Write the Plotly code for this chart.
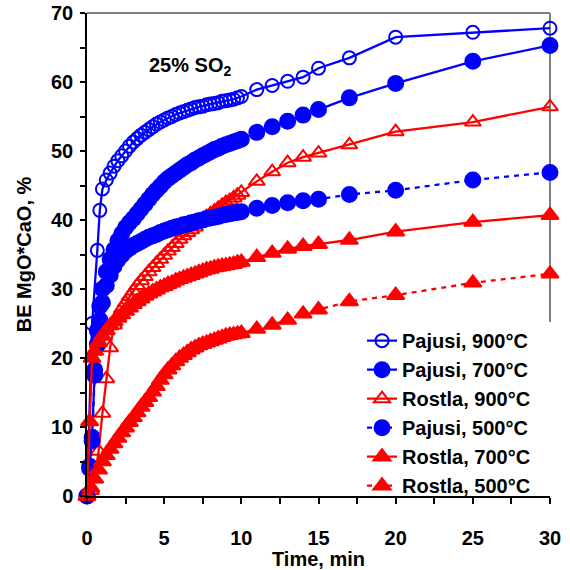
import plotly.graph_objects as go

# Shared sampling times (min) for the dense part of every run and the late readings
T_GRID = [1.0, 1.25, 1.5, 1.75, 2.0, 2.25, 2.5, 2.75, 3.0, 3.25, 3.5, 3.75,
          4.0, 4.25, 4.5, 4.75, 5.0, 5.25, 5.5, 5.75, 6.0, 6.25, 6.5, 6.75,
          7.0, 7.25, 7.5, 7.75, 8.0, 8.25, 8.5, 8.75, 9.0, 9.25, 9.5, 9.75, 10.0]
T_LATE = [11, 12, 13, 14, 15, 17, 20, 25, 30]

# Pajusi, 900 °C
P900_T0 = [0, 0.33, 0.67, 0.83]
P900_Y = [0, 25.0, 35.6, 41.4,
          44.5, 45.8, 46.8, 47.8, 48.6, 49.3, 50.0, 50.7, 51.3, 51.8, 52.3, 52.7,
          53.1, 53.5, 53.9, 54.2, 54.5, 54.8, 55.0, 55.3, 55.5, 55.7, 55.9, 56.1,
          56.3, 56.4, 56.5, 56.7, 56.8, 56.9, 57.0, 57.2, 57.3, 57.4, 57.5, 57.7, 57.9,
          58.9, 59.5, 60.1, 60.7, 62.0, 63.5, 66.5, 67.2, 67.8]

# Pajusi, 700 °C
P700_T0 = [0, 0.17, 0.33, 0.5, 0.67, 0.83]
P700_Y = [0, 4.3, 8.5, 18.3, 24.0, 27.5,
          30.0, 32.5, 34.3, 35.7, 37.0, 38.0, 38.9, 39.6, 40.2, 40.9, 41.6, 42.3,
          43.0, 43.7, 44.3, 44.9, 45.5, 46.0, 46.4, 46.8, 47.2, 47.6, 48.0, 48.3,
          48.7, 49.0, 49.3, 49.6, 49.9, 50.2, 50.4, 50.7, 50.9, 51.1, 51.3, 51.5, 51.7,
          52.7, 53.5, 54.3, 55.2, 56.0, 57.7, 59.8, 63.0, 65.3]

# Rostla, 900 °C
R900_T0 = [0, 0.25, 0.5, 0.75]
R900_Y = [0, 0.8, 2.5, 6.5,
          12.0, 17.0, 21.5, 24.8, 26.0, 27.1, 28.0, 28.9, 29.7, 30.5, 31.2, 31.8,
          32.5, 33.1, 33.7, 34.3, 34.9, 35.5, 36.0, 36.6, 37.2, 37.7, 38.2, 38.6,
          39.0, 39.5, 40.0, 40.5, 40.9, 41.3, 41.7, 42.1, 42.5, 42.8, 43.2, 43.6, 44.0,
          45.6, 47.0, 48.3, 49.1, 49.7, 50.9, 52.8, 54.2, 56.4]

# Pajusi, 500 °C
P500_T0 = [0, 0.17, 0.33, 0.5, 0.67, 0.83]
P500_Y = [0, 4.0, 8.0, 17.5, 22.0, 25.5,
          28.0, 30.5, 32.0, 33.3, 34.2, 34.9, 35.5, 35.9, 36.3, 36.6, 36.9, 37.2,
          37.5, 37.7, 37.9, 38.2, 38.4, 38.6, 38.8, 39.0, 39.1, 39.3, 39.4, 39.6,
          39.7, 39.9, 40.0, 40.2, 40.3, 40.4, 40.5, 40.7, 40.8, 40.9, 41.0, 41.1, 41.2,
          41.7, 42.1, 42.5, 42.8, 43.0, 43.7, 44.3, 45.8, 46.9]

# Rostla, 700 °C
R700_T0 = [0, 0.17, 0.33, 0.5, 0.75]
R700_Y = [0, 10.8, 20.0, 21.0, 22.3,
          23.2, 24.0, 24.7, 25.3, 25.8, 26.3, 26.8, 27.3, 27.8, 28.2, 28.6, 29.0,
          29.3, 29.6, 29.9, 30.2, 30.4, 30.7, 30.9, 31.2, 31.4, 31.6, 31.8, 32.0,
          32.2, 32.4, 32.6, 32.8, 32.9, 33.1, 33.2, 33.3, 33.4, 33.5, 33.6, 33.8, 33.9,
          34.6, 35.2, 35.8, 36.2, 36.5, 37.1, 38.3, 39.7, 40.7]

# Rostla, 500 °C
R500_T0 = [0, 0.25, 0.5, 0.75]
R500_Y = [0, 1.2, 2.5, 3.8,
          5.0, 5.9, 6.8, 7.6, 8.4, 9.2, 9.9, 10.7, 11.4, 12.1, 12.9, 13.6,
          14.3, 15.1, 15.9, 16.8, 17.6, 18.3, 18.9, 19.5, 20.0, 20.4, 20.8, 21.2,
          21.5, 21.8, 22.0, 22.2, 22.4, 22.6, 22.8, 23.0, 23.2, 23.3, 23.4, 23.5, 23.6,
          24.2, 24.8, 25.5, 26.4, 27.0, 28.2, 29.1, 30.9, 32.2]

X_TICKS = [0, 5, 10, 15, 20, 25, 30]
Y_TICKS = [0, 10, 20, 30, 40, 50, 60, 70]

BLUE = "#0000FF"
RED = "#FF0000"
FONT = "Liberation Sans, Arial, sans-serif"

series = [
    ("Pajusi, 900°C", P900_T0, P900_Y, BLUE, "circle-open", "solid", 13),
    ("Pajusi, 700°C", P700_T0, P700_Y, BLUE, "circle", "solid", 15),
    ("Rostla, 900°C", R900_T0, R900_Y, RED, "triangle-up-open", "solid", 14),
    ("Pajusi, 500°C", P500_T0, P500_Y, BLUE, "circle", "5px,5px", 15),
    ("Rostla, 700°C", R700_T0, R700_Y, RED, "triangle-up", "solid", 15),
    ("Rostla, 500°C", R500_T0, R500_Y, RED, "triangle-up", "5px,5px", 15),
]

fig = go.Figure()
for i, (name, t0, vals, color, symbol, dash, msize) in enumerate(series):
    times = t0 + T_GRID + T_LATE
    fig.add_trace(go.Scatter(
        x=times, y=vals, name=name, mode="lines+markers",
        legendgroup=f"g{i}",
        line=dict(color=color, width=2.3, dash=dash),
        marker=dict(symbol=symbol, size=msize, color=color,
                    line=dict(color=color, width=2)),
        cliponaxis=False,
    ))

axis_font = dict(family=FONT, size=20, color="black", weight="bold")
title_font = dict(family=FONT, size=20, color="black", weight="bold")

# legend occupies the lower right corner; the grey frame stops at its top
LEGEND_TOP = 0.36

fig.update_layout(
    width=570, height=570,
    margin=dict(l=87, r=20, t=13, b=74, autoexpand=False),
    paper_bgcolor="white", plot_bgcolor="white",
    showlegend=True,
    legend=dict(
        x=0.594, y=-0.019, xanchor="left", yanchor="bottom",
        bgcolor="rgba(255,255,255,0)", borderwidth=0,
        font=dict(family=FONT, size=20, color="black", weight="bold"),
        tracegroupgap=0, itemwidth=30,
    ),
    xaxis=dict(
        range=[0, 30], tickmode="array", tickvals=X_TICKS, automargin=False,
        ticks="outside", ticklen=6, tickwidth=1.5, tickcolor="black",
        minor=dict(dtick=2.5, ticks="outside", ticklen=6, tickwidth=1.5, tickcolor="black"),
        showline=True, linecolor="black", linewidth=1.5,
        showgrid=False, zeroline=False,
        tickfont=axis_font, ticklabelstandoff=17,
        title=dict(text="Time, min", font=title_font, standoff=2),
    ),
    yaxis=dict(
        range=[0, 70], tickmode="array", tickvals=Y_TICKS, automargin=False,
        ticks="outside", ticklen=5, tickwidth=1.5, tickcolor="black",
        minor=dict(dtick=5, ticks="outside", ticklen=5, tickwidth=1.5, tickcolor="black"),
        showline=True, linecolor="black", linewidth=1.5,
        showgrid=False, zeroline=False,
        tickfont=axis_font, ticklabelstandoff=3,
        title=dict(text="BE MgO*CaO, %", font=title_font, standoff=14),
    ),
    # inner halves of the major ticks, so they cross the axis lines
    xaxis2=dict(
        range=[0, 30], overlaying="x", anchor="y", side="bottom", automargin=False,
        tickmode="array", tickvals=X_TICKS, ticks="inside", ticklen=6,
        tickwidth=1.5, tickcolor="black", showticklabels=False,
        showline=False, showgrid=False, zeroline=False,
    ),
    yaxis2=dict(
        range=[0, 70], overlaying="y", anchor="x", side="left", automargin=False,
        tickmode="array", tickvals=Y_TICKS, ticks="inside", ticklen=7,
        tickwidth=1.5, tickcolor="black", showticklabels=False,
        showline=False, showgrid=False, zeroline=False,
    ),
    shapes=[
        dict(type="line", xref="paper", yref="paper", x0=0, x1=1, y0=1, y1=1,
             line=dict(color="#808080", width=2), layer="below"),
        dict(type="line", xref="paper", yref="paper", x0=1, x1=1, y0=LEGEND_TOP, y1=1,
             line=dict(color="#808080", width=2), layer="below"),
    ],
    annotations=[
        dict(text="25% SO<sub>2</sub>", xref="paper", yref="paper",
             x=0.222, y=0.89, xanchor="center", yanchor="middle", showarrow=False,
             font=dict(family=FONT, size=20, color="black", weight="bold")),
    ],
)

fig.write_html("out.html")
